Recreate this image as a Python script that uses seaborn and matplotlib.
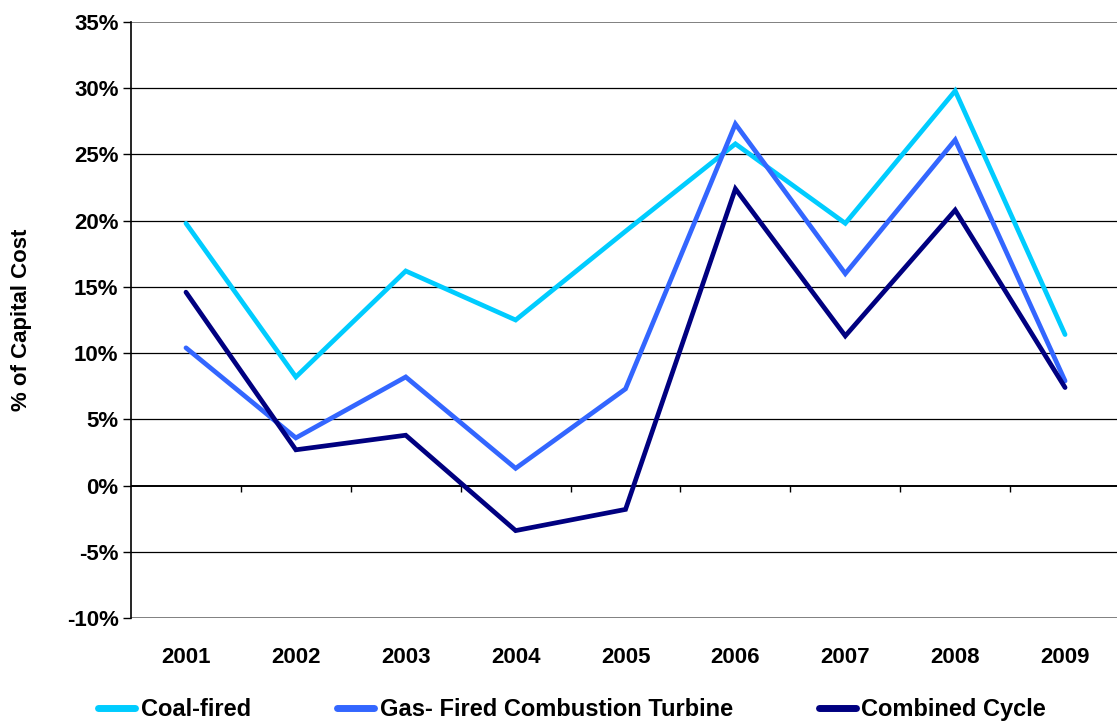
import matplotlib
matplotlib.use("Agg")
import matplotlib.pyplot as plt
import matplotlib.ticker as mticker
import numpy as np
import pandas as pd
import seaborn as sns

# Capital cost change by year, % of capital cost
years = ["2001", "2002", "2003", "2004", "2005", "2006", "2007", "2008", "2009"]
coal_fired = [19.8, 8.2, 16.2, 12.5, 19.2, 25.8, 19.8, 29.8, 11.4]
gas_turbine = [10.4, 3.6, 8.2, 1.3, 7.3, 27.3, 16.0, 26.1, 7.9]
combined_cycle = [14.6, 2.7, 3.8, -3.4, -1.8, 22.4, 11.3, 20.8, 7.4]
series_names = ["Coal-fired", "Gas- Fired Combustion Turbine", "Combined Cycle"]
y_ticks = list(range(-10, 40, 5))

colors = ["#00CCFF", "#3366FF", "#000080"]

sns.set_theme(style="white")
plt.rcParams["font.family"] = ["Liberation Sans", "DejaVu Sans"]
plt.rcParams["font.weight"] = "bold"
for key in ["text.color", "axes.labelcolor", "xtick.color", "ytick.color"]:
    plt.rcParams[key] = "black"

pos = np.arange(len(years))
df = pd.DataFrame({
    "pos": np.tile(pos, 3),
    "value": coal_fired + gas_turbine + combined_cycle,
    "series": np.repeat(series_names, len(years)),
})

fig = plt.figure(figsize=(11.17, 7.23), dpi=100)
ax = fig.add_axes([0.1173, 0.1452, 0.8854, 0.8244])

# horizontal gridlines; the outer ones are lighter
for v in y_ticks:
    outer = v in (-10, 35)
    ax.axhline(v, color="#808080" if outer else "#000000",
               lw=1.4 if (outer or v == 0) else 0.9, zorder=1)

sns.lineplot(data=df, x="pos", y="value", hue="series", palette=colors,
             hue_order=series_names, lw=3.4, ax=ax, legend=False, zorder=3,
             solid_capstyle="round", solid_joinstyle="miter")

ax.set_xlim(-0.5, len(years) - 0.5)
ax.set_ylim(-10, 35)

# category boundary ticks hanging from the zero line
bounds = np.arange(0.5, len(years) - 1, 1.0)
ax.vlines(bounds, -0.45, 0, color="black", lw=1.0, zorder=2)

ax.set_xticks(pos)
ax.set_xticklabels(years, fontsize=16, fontweight="bold")
ax.tick_params(axis="x", length=0, pad=21)
ax.set_yticks(y_ticks)
ax.yaxis.set_major_formatter(mticker.FuncFormatter(lambda v, p: f"{int(v)}%"))
ax.tick_params(axis="y", length=6, width=1, color="black", direction="out",
               labelsize=16, left=True, pad=3)
for t in ax.get_yticklabels():
    t.set_fontweight("bold")

ax.set_xlabel("")
ax.set_ylabel("% of Capital Cost", fontsize=16, fontweight="bold", labelpad=25)

for s in ["top", "right", "bottom"]:
    ax.spines[s].set_visible(False)
ax.spines["left"].set_color("black")
ax.spines["left"].set_linewidth(1.2)

handles = [plt.Line2D([0], [0], color=c, lw=5) for c in colors]
fig.legend(handles, series_names, loc="lower left", bbox_to_anchor=(0.069, -0.027),
           ncol=3, frameon=False, handlelength=1.55, handletextpad=0.25,
           columnspacing=3.65, prop={"weight": "bold", "size": 17})

fig.savefig("out.png", dpi=100)
